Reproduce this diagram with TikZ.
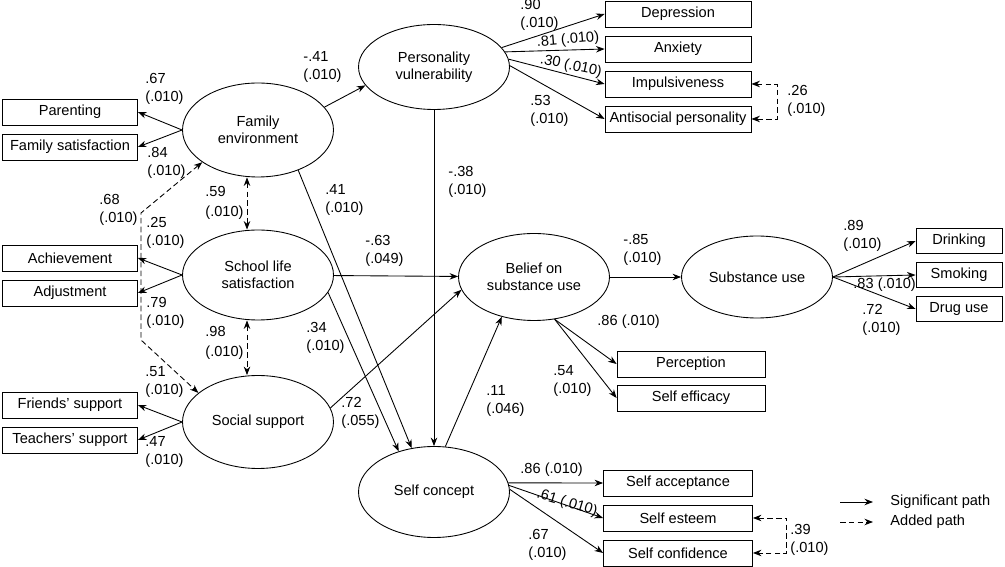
\documentclass[tikz,border=0pt]{standalone}
\usepackage{fontspec}
\setmainfont{Liberation Sans}
\usetikzlibrary{shapes.geometric, positioning, arrows.meta}

\begin{document}
\begin{tikzpicture}[
			x=0.02cm, y=-0.02cm, on grid, node distance=0.7cm,
			line width=0.5pt, >={Stealth[length=1.7mm, width=1.3mm]},
			font=\fontsize{8.3}{9.8}\selectfont,
			latent/.style={ellipse, draw, minimum width=3.02cm, inner sep=0pt, align=center},
			obs/.style={rectangle, draw, minimum height=0.52cm, inner sep=0pt},
			coef/.style={anchor=west, align=left, inner sep=0pt},
			added/.style={dash pattern=on 3.2pt off 1.8pt}
			]
			\useasboundingbox (0,0) rectangle (1005,567);
			% latent variables
			\node[latent, minimum height=1.88cm] (fam) at (258,130) {Family\\environment};
			\node[latent, minimum height=1.80cm] (sls) at (258,275) {School life\\satisfaction};
			\node[latent, minimum height=1.86cm] (ss) at (258,422) {Social support};
			\node[latent, minimum height=1.70cm] (pv) at (434,67) {Personality\\vulnerability};
			\node[latent, minimum height=1.74cm] (bel) at (534,277) {Belief on\\substance use};
			\node[latent, minimum height=1.64cm] (su) at (757,277) {Substance use};
			\node[latent, minimum height=1.82cm] (sc) at (434,492) {Self concept};
			% indicators
			\node[obs, minimum width=2.7cm] (par) at (70,112) {Parenting};
			\node[obs, minimum width=2.7cm] (fsat) [below=of par] {Family satisfaction};
			\node[obs, minimum width=2.7cm] (ach) at (70,258) {Achievement};
			\node[obs, minimum width=2.7cm] (adj) [below=of ach] {Adjustment};
			\node[obs, minimum width=2.7cm] (fri) at (70,405) {Friends' support};
			\node[obs, minimum width=2.7cm] (tea) [below=of fri] {Teachers' support};
			\node[obs, minimum width=2.92cm] (dep) at (678,14) {Depression};
			\node[obs, minimum width=2.92cm] (anx) [below=of dep] {Anxiety};
			\node[obs, minimum width=2.92cm] (imp) [below=of anx] {Impulsiveness};
			\node[obs, minimum width=2.92cm] (anti) [below=of imp] {Antisocial personality};
			\node[obs, minimum width=1.72cm, minimum height=0.5cm] (dri) at (959,241) {Drinking};
			\node[obs, minimum width=1.72cm, minimum height=0.5cm] (smo) [below=0.68cm of dri] {Smoking};
			\node[obs, minimum width=1.72cm, minimum height=0.5cm] (dru) [below=0.68cm of smo] {Drug use};
			\node[obs, minimum width=2.96cm] (per) at (691,364) {Perception};
			\node[obs, minimum width=2.96cm] (eff) [below=0.68cm of per] {Self efficacy};
			\node[obs, minimum width=2.98cm] (acc) at (678,483) {Self acceptance};
			\node[obs, minimum width=2.98cm] (est) [below=of acc] {Self esteem};
			\node[obs, minimum width=2.98cm] (con) [below=of est] {Self confidence};
			% significant paths
			\path[->]
			(fam.180) edge (par.east)
			(fam.180) edge (fsat.east)
			(sls.180) edge (ach.east)
			(sls.180) edge (adj.east)
			(ss.180) edge (fri.east)
			(ss.180) edge (tea.east)
			(fam.19) edge (pv.195)
			(fam.-45) edge (sc.117)
			(sls.-14) edge (sc.131)
			(sls) edge (bel)
			(ss.11) edge (bel.190)
			(pv.south) edge (sc.north)
			(sc.76) edge (bel.231)
			(bel) edge (su)
			(bel.-64) edge (per.west)
			(bel.-64) edge (eff.west)
			(pv.16) edge (dep.west)
			(pv.12) edge (anx.west)
			(pv.6) edge (imp.west)
			(pv.1) edge (anti.west)
			(su.east) edge (dri.west)
			(su.east) edge (smo.west)
			(su.east) edge (dru.west)
			(sc.7) edge (acc.west)
			(sc.5) edge (est.west)
			(sc.2) edge (con.west);
			% added paths
			\coordinate (fs1) at (141,213);
			\coordinate (fs2) at (141,340);
			\draw[added, <->] (fam.210) -- (fs1) -- (fs2) -- (ss.154);
			\draw[added, <->] ([xshift=-0.22cm]fam.south) -- ([xshift=-0.22cm]sls.north);
			\draw[added, <->] ([xshift=-0.22cm]sls.south) -- ([xshift=-0.22cm]ss.north);
			\draw[added, <->] (imp.east) -- ++(0.52cm,0) |- (anti.east);
			\draw[added, <->] (est.east) -- ++(0.68cm,0) |- (con.east);
			% coefficients
			\node[coef] (c67) at (145,89) {.67\\(.010)};
			\node[coef] (c84) at (147,163) {.84\\(.010)};
			\node[coef] (c68) at (99,210) {.68\\(.010)};
			\node[coef] (c25) at (146,233) {.25\\(.010)};
			\node[coef] (c59) at (205,203) {.59\\[2pt](.010)};
			\node[coef] (c79) at (146,313) {.79\\(.010)};
			\node[coef] (c98) at (205,343) {.98\\[2pt](.010)};
			\node[coef] (c51) at (145,382) {.51\\(.010)};
			\node[coef] (c47) at (145,452) {.47\\(.010)};
			\node[coef] (c41a) at (303,67) {-.41\\(.010)};
			\node[coef] (c41b) at (325,200) {.41\\(.010)};
			\node[coef] (c38) at (448,182) {-.38\\(.010)};
			\node[coef] (c63) at (365,251) {-.63\\(.049)};
			\node[coef] (c34) at (306,338) {.34\\(.010)};
			\node[coef] (c72a) at (341,413) {.72\\(.055)};
			\node[coef] (c11) at (486,401) {.11\\(.046)};
			\node[coef] (c85) at (623,250) {-.85\\(.010)};
			\node[coef] (c86a) at (597,322) {.86 (.010)};
			\node[coef] (c54) at (553,381) {.54\\(.010)};
			\node[coef] (c89) at (843,236) {.89\\(.010)};
			\node[coef] (c83) at (853,285) {.83 (.010)};
			\node[coef] (c72b) at (862,320) {.72\\(.010)};
			\node[coef] (c90) at (520,15) {.90\\(.010)};
			\node[inner sep=0pt, rotate=5] (c81) at (568,40) {.81 (.010)};
			\node[inner sep=0pt, rotate=-12] (c30) at (571,66) {.30 (.010)};
			\node[coef] (c53) at (530,111) {.53\\(.010)};
			\node[coef] (c26) at (787,101) {.26\\(.010)};
			\node[coef] (c86b) at (520,470) {.86 (.010)};
			\node[inner sep=0pt, rotate=-17] (c61) at (567,503) {.61 (.010)};
			\node[coef] (c67b) at (528,545) {.67\\(.010)};
			\node[coef] (c39) at (790,540) {.39\\(.010)};
			% legend
			\coordinate (lg1) at (840,502);
			\coordinate (lg2) at (873,502);
			\coordinate (lg3) at (840,522);
			\coordinate (lg4) at (873,522);
			\draw[->] (lg1) -- (lg2);
			\draw[added, ->] (lg3) -- (lg4);
			\node[coef] (lgs) at (890,502) {Significant path};
			\node[coef] (lga) at (890,522) {Added path};
		\end{tikzpicture}
\end{document}
